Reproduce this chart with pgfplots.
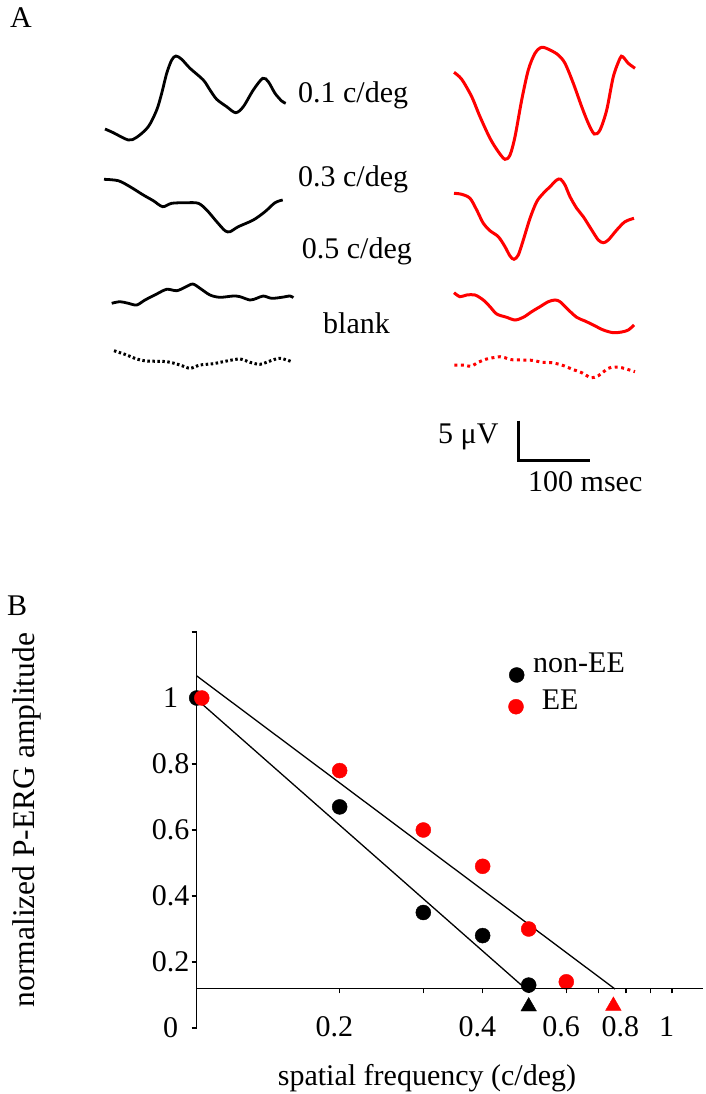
\documentclass[border=0pt]{standalone}
\usepackage{pgfplots}
\pgfplotsset{compat=1.18}
\usepackage{fontspec}
\setmainfont{Liberation Serif}
\definecolor{myred}{RGB}{255,0,0}
\begin{document}
\fontsize{30}{36}\selectfont
\begin{tikzpicture}
\useasboundingbox (0,0) rectangle (705pt,1094pt);
% ---------- overlay axis in pixel coordinates (panel A and texts)
\begin{axis}[at={(0pt,0pt)}, anchor=south west, scale only axis,
  width=705pt, height=1094pt, xmin=0, xmax=705, ymin=0, ymax=1094,
  y dir=reverse, hide axis, clip=false]
% black 0.1 c/deg
\addplot[black, line width=2.8pt, smooth] coordinates {
(105,129) (113.3,132.7) (128.3,140) (136.7,137.3) (148.3,126.7) (156.7,110)
(161.7,93.3) (166.7,73.3) (171.7,60) (176,56) (181.7,59.3) (190,68.3)
(203.3,80) (210,90) (216.7,99.3) (226.7,106.7) (235.7,112.7) (243.3,106.7)
(253.3,90) (262.7,78.3) (268.3,81.7) (275,93.3) (281.7,101) (285.7,103.3)};
% black 0.3 c/deg
\addplot[black, line width=2.8pt, smooth] coordinates {
(104,179.3) (118.3,180.7) (130,186.7) (143.3,195) (153.3,200.7) (162.7,206.7)
(171.7,203.3) (186.7,202.7) (198.3,203.3) (206.7,210) (216.7,221.7) (225,230.7)
(230,231.7) (238.3,226.7) (253.3,220) (265,211.7) (275,202.7) (282.7,200)};
% black 0.5 c/deg
\addplot[black, line width=2.8pt, smooth] coordinates {
(111.7,303.3) (120,301.7) (128.3,303.3) (136.7,305) (145,300) (156.7,294)
(166.7,289.3) (176.7,290.7) (185,287.3) (192.7,284) (200,288.3) (210,295)
(220,297.3) (233.3,296) (240,296.7) (250,300) (256.7,298.3) (263.3,296)
(271.7,298.3) (281.7,297.3) (290,296) (293.3,297.7)};
% black blank
\addplot[black, line width=3pt, smooth, dash pattern=on 2.5pt off 2.5pt] coordinates {
(114,350.7) (126.7,355) (136.7,359) (146.7,361) (166.7,361.7) (180,365)
(190,368.3) (200,365) (213.3,363.7) (226.7,361) (240,359) (250,362.3)
(260,364.3) (270,361) (280,358.3) (291.7,361.7)};
% red 0.1 c/deg
\addplot[myred, line width=3pt, smooth] coordinates {
(454,72.3) (461.7,79.3) (471.7,96.7) (480,116.7) (490,138.3) (498.3,151.7)
(505,159.3) (510,155) (515,136.7) (521.7,100) (528.3,70) (535,53.3)
(541.7,47.3) (550,50) (558.3,55) (565,63.3) (573.3,83.3) (581.7,106.7)
(588.3,123.3) (594.3,134) (600,130) (606.7,110) (613.3,76.7) (620,58.3)
(622.7,56.7) (628.3,63.3) (635,68.3)};
% red 0.3 c/deg
\addplot[myred, line width=3pt, smooth] coordinates {
(454,193.3) (461.7,194.3) (470,198.3) (476.7,210) (483.3,223.3) (490,230.7)
(498.3,236.7) (505,246.7) (510,256) (514,259.3) (518.3,255) (523.3,240)
(530,218.3) (536.7,201.7) (543.3,193.3) (550,186.7) (556.7,180) (560.7,179.3)
(565,185) (570,196.7) (576.7,208.3) (583.3,216.7) (591.7,230) (598.3,240)
(603.3,242.7) (608.3,240) (616.7,230) (625,221.7) (634,218.3)};
% red 0.5 c/deg
\addplot[myred, line width=3pt, smooth] coordinates {
(454,292.7) (460,296.7) (466.7,295) (475,295) (483.3,300) (490,306.7)
(496.7,314) (506.7,317.3) (515,320) (523.3,317.3) (531.7,311.7) (540,306.7)
(548.3,301.7) (555,300) (560,301.7) (566.7,308.3) (576.7,317.3) (585,321)
(593.3,325) (603.3,330) (613.3,332.7) (621.7,332) (628.3,330) (634,325)};
% red blank
\addplot[myred, line width=3pt, smooth, dash pattern=on 3pt off 3.5pt] coordinates {
(454.3,365) (465,365.3) (471,366.3) (478.3,362.3) (486.7,359) (500,356.7)
(505,357.7) (511.7,359.7) (531.7,360.3) (541.7,362.3) (551.7,362.7) (561.7,365)
(571.7,369) (581.7,372.7) (591,377.7) (598.3,375.7) (608.3,368.3) (615,367)
(621.7,367.7) (635,371.7)};
% scale bar
\addplot[black, line width=2.8pt] coordinates {(518.3,420.7) (518.3,460.7) (590,460.7)};
% legend marks
\addplot[only marks, mark=*, mark size=7.5pt, black] coordinates {(516.7,675)};
\addplot[only marks, mark=*, mark size=7.5pt, myred, mark options={draw=myred, fill=myred}] coordinates {(516,706.7)};
% texts
\node[anchor=base west, inner sep=0] at (axis cs:10,28) {A};
\node[anchor=base west, inner sep=0] at (axis cs:7,615) {B};
\node[anchor=base west, inner sep=0] at (axis cs:298,103) {0.1 c/deg};
\node[anchor=base west, inner sep=0] at (axis cs:298,186.7) {0.3 c/deg};
\node[anchor=base west, inner sep=0] at (axis cs:301.7,258) {0.5 c/deg};
\node[anchor=base west, inner sep=0] at (axis cs:323,333) {blank};
\node[anchor=base west, inner sep=0] at (axis cs:438,443.3) {5 μV};
\node[anchor=base west, inner sep=0] at (axis cs:528,491.7) {100 msec};
\node[anchor=base west, inner sep=0] at (axis cs:533,672.7) {non-EE};
\node[anchor=base west, inner sep=0] at (axis cs:541.7,709) {EE};
\node[anchor=base, inner sep=0] at (axis cs:427,1085) {spatial frequency (c/deg)};
\node[rotate=90, inner sep=0, font=\fontsize{31.5}{36}\selectfont] at (axis cs:27,820) {normalized P-ERG amplitude};
\end{axis}
% ---------- panel B: data and y axis
\begin{axis}[at={(196.7pt,66pt)}, anchor=south west, scale only axis,
  width=503.8pt, height=396pt, xmode=log, xmin=0.1, xmax=1.15,
  ymin=0, ymax=1.2, axis y line=left, axis x line=none,
  axis line style={-, line width=1.2pt}, clip=false,
  ytick={0,0.2,0.4,0.6,0.8,1,1.2}, yticklabels={0,0.2,0.4,0.6,0.8,1,{}},
  tick align=outside, major tick length=5pt, tick style={line width=1.2pt, black},
  yticklabel style={anchor=center, inner sep=0pt, xshift=-21pt},
  /pgf/number format/assume math mode=true]
\addplot[black, line width=1.3pt] coordinates {(0.1,1.067) (0.76,0.118)};
\addplot[black, line width=1.3pt] coordinates {(0.1,0.996) (0.487,0.125)};
\addplot[only marks, mark=*, mark size=7.5pt, black] coordinates {
(0.1,1.0) (0.2,0.67) (0.3,0.35) (0.4,0.28) (0.5,0.13)};
\addplot[only marks, mark=*, mark size=7.5pt, myred, mark options={draw=myred, fill=myred}] coordinates {
(0.1025,1.0) (0.2,0.78) (0.3,0.60) (0.4,0.49) (0.5,0.30) (0.6,0.14)};
\addplot[only marks, mark=triangle*, mark size=9pt, black] coordinates {(0.5,0.065)};
\addplot[only marks, mark=triangle*, mark size=9pt, myred, mark options={draw=myred, fill=myred}] coordinates {(0.754,0.067)};
\end{axis}
% ---------- panel B: x axis line at y = 0.12
\begin{axis}[at={(196.7pt,105.6pt)}, anchor=south west, scale only axis,
  width=506pt, height=20pt, xmode=log, xmin=0.1, xmax=1.16,
  ymin=0, ymax=1, axis x line=bottom, axis y line=none,
  axis line style={-, line width=1.2pt},
  xtick={0.1,0.2,0.3,0.4,0.5,0.6,0.7,0.8,0.9,1},
  xticklabels={{},0.2,{},0.4,{},0.6,{},0.8,{},1},
  minor xtick={}, tick align=outside, major tick length=5pt,
  tick style={line width=1.2pt, black},
  xticklabel style={inner sep=1pt, yshift=-22pt, xshift=-5.5pt},
  /pgf/number format/assume math mode=true]
\addplot[draw=none] coordinates {(0.2,0.5)};
\end{axis}
\end{tikzpicture}
\end{document}
